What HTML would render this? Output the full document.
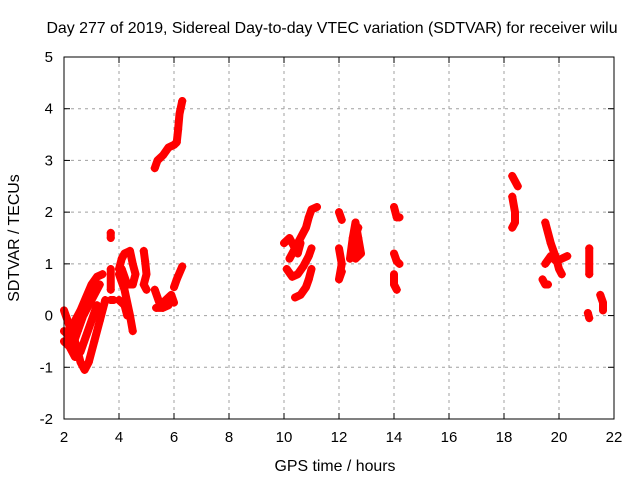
<!DOCTYPE html>
<html><head><meta charset="utf-8"><style>
body{margin:0;background:#fff;}
svg{display:block;font-family:"Liberation Sans",sans-serif;}
</style></head><body>
<svg id="c" width="640" height="480">
<rect width="640" height="480" fill="#fff"/>
<text x="332" y="33" text-anchor="middle" font-size="15.9">Day 277 of 2019, Sidereal Day-to-day VTEC variation (SDTVAR) for receiver wilu</text>
<text x="335" y="471" text-anchor="middle" font-size="15.9">GPS time / hours</text>
<text transform="translate(19,238) rotate(-90)" text-anchor="middle" font-size="15.9">SDTVAR / TECUs</text>
<g id="grid"></g><g id="marks"></g>
<rect x="64" y="57" width="550" height="362" fill="none" stroke="#000"/>
</svg>
<script>
const xTicks=[2,4,6,8,10,12,14,16,18,20,22];
const yTicks=[-2,-1,0,1,2,3,4,5];
const tracks=[
[[2.0,0.1],[2.2,-0.2],[2.4,-0.5],[2.6,-0.9],[2.75,-1.05],[2.9,-0.9],[3.1,-0.5],[3.3,-0.1],[3.5,0.3]],
[[2.0,-0.3],[2.2,-0.4],[2.4,-0.1],[2.6,0.1],[2.8,0.35],[3.0,0.6],[3.2,0.75],[3.4,0.8]],
[[2.1,-0.3],[2.3,-0.6],[2.5,-0.3],[2.7,0.0],[2.9,0.2],[3.1,0.4],[3.3,0.6]],
[[2.0,-0.5],[2.2,-0.6],[2.4,-0.8],[2.6,-0.7],[2.8,-0.4],[3.0,-0.1],[3.2,0.2]],
[[3.7,1.6],[3.7,1.5]],
[[3.7,0.9],[3.7,0.5]],[[3.7,0.3],[3.8,0.3]],
[[4.0,0.9],[4.1,1.1],[4.2,1.2],[4.4,1.25],[4.5,1.0],[4.6,0.8],[4.5,0.6],[4.3,0.6],[4.1,0.9]],
[[4.0,0.8],[4.2,0.5],[4.4,0.0],[4.5,-0.3]],
[[4.0,0.3],[4.2,0.2],[4.3,0.0]],
[[4.9,1.25],[4.95,1.05],[5.0,0.8],[4.9,0.6],[5.0,0.5]],
[[5.3,0.5],[5.5,0.2],[5.7,0.3],[5.9,0.4],[6.0,0.25]],
[[5.35,0.15],[5.6,0.15],[5.8,0.2]],
[[6.0,0.55],[6.1,0.7],[6.3,0.95]],
[[5.3,2.85],[5.4,3.0],[5.6,3.1],[5.8,3.25],[6.0,3.3],[6.1,3.35],[6.15,3.6],[6.2,3.9],[6.3,4.15]],
[[10.2,1.1],[10.4,1.3],[10.6,1.5],[10.8,1.7],[10.9,1.9],[11.0,2.05],[11.2,2.1]],
[[10.0,1.4],[10.2,1.5],[10.4,1.3],[10.6,1.4],[10.5,1.2]],
[[10.1,0.9],[10.3,0.75],[10.5,0.8],[10.7,0.95],[10.9,1.15],[11.0,1.3]],
[[11.0,0.9],[10.9,0.7],[10.8,0.55],[10.6,0.4],[10.4,0.35]],
[[12.0,2.0],[12.1,1.85]],
[[12.0,1.3],[12.1,1.0],[12.0,0.7],[12.1,0.85]],
[[12.4,1.1],[12.5,1.5],[12.6,1.8],[12.7,1.5],[12.8,1.2],[12.6,1.1],[12.5,1.4],[12.7,1.7]],
[[14.0,2.1],[14.1,1.9],[14.2,1.9]],
[[14.0,1.2],[14.1,1.05],[14.2,1.0]],
[[14.0,0.8],[14.0,0.6],[14.1,0.5]],
[[18.3,2.7],[18.4,2.6],[18.5,2.5]],
[[18.3,2.3],[18.4,2.0],[18.4,1.8],[18.3,1.7]],
[[19.5,1.8],[19.6,1.6],[19.7,1.4],[19.8,1.25],[19.9,1.1],[20.0,0.9],[20.1,0.8]],
[[19.5,1.0],[19.7,1.15],[19.9,1.05],[20.1,1.1],[20.3,1.15]],
[[19.4,0.7],[19.5,0.6],[19.6,0.6]],
[[21.1,1.3],[21.1,1.0],[21.1,0.8]],
[[21.05,0.05],[21.1,-0.05]],
[[21.5,0.4],[21.6,0.25],[21.6,0.1]]
];
const NS="http://www.w3.org/2000/svg";
const X=h=>64+(h-2)*27.5, Y=v=>57+(5-v)*51.714;
const g=document.getElementById('grid'), m=document.getElementById('marks');
function el(t,a,p){const e=document.createElementNS(NS,t);for(const k in a)e.setAttribute(k,a[k]);p.appendChild(e);return e;}
xTicks.forEach(t=>{const x=X(t);
 if(t>2&&t<22){const l=el('line',{x1:x,x2:x,y1:57,y2:419,stroke:'#a0a0a0','stroke-dasharray':'3,4'},g);
 
 }
 el('line',{x1:x,x2:x,y1:419,y2:413,stroke:'#000'},g);el('line',{x1:x,x2:x,y1:57,y2:63,stroke:'#000'},g);
 const tx=el('text',{x:x,y:442,'text-anchor':'middle','font-size':15},g);tx.textContent=t;
 
 });
yTicks.forEach(t=>{const y=Y(t);
 if(t>-2&&t<5){const l=el('line',{x1:64,x2:614,y1:y,y2:y,stroke:'#a0a0a0','stroke-dasharray':'3,4'},g);
 
 }
 el('line',{x1:64,x2:70,y1:y,y2:y,stroke:'#000'},g);el('line',{x1:614,x2:608,y1:y,y2:y,stroke:'#000'},g);
 const tx=el('text',{x:53,y:y+5,'text-anchor':'end','font-size':15},g);tx.textContent=t;
 
 });
tracks.forEach(tr=>{
 if(tr.length>1){const p=el('polyline',{points:tr.map(d=>X(d[0])+','+Y(d[1])).join(' '),fill:'none',stroke:'#f00','stroke-width':8,'stroke-linejoin':'round','stroke-linecap':'round'},m);
 
 }
 tr.forEach(d=>{const x=X(d[0]),y=Y(d[1]);
  const pt=el('path',{d:`M${x-4},${y}h8M${x},${y-4}v8`,stroke:'#f00','stroke-width':1.5},m);
  
  });
});
</script>
</body></html>
